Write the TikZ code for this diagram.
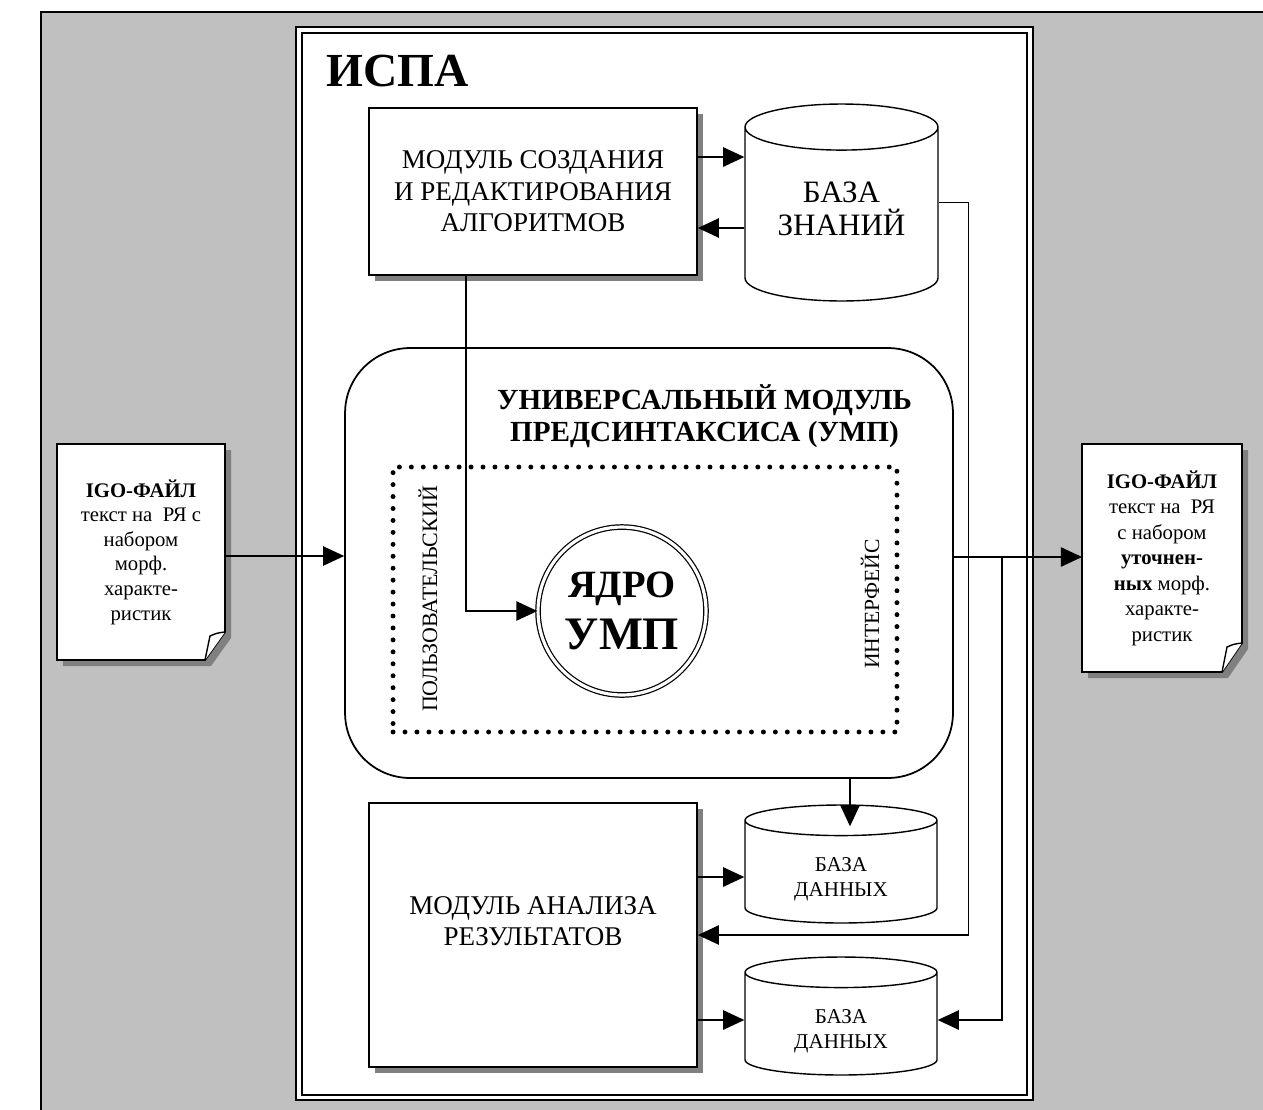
\documentclass[tikz,border=0pt]{standalone}
\usepackage{fontspec}
\setmainfont{Liberation Serif}
\usetikzlibrary{shapes.geometric,arrows.meta,shadows,calc}
\definecolor{bggray}{RGB}{192,192,192}
\definecolor{shadowgray}{RGB}{128,128,128}
\tikzstyle{module} = [rectangle, draw=black, line width=1pt, fill=white, align=center, font=\fontsize{15.4}{18}\selectfont, drop shadow={shadow xshift=0.12cm, shadow yshift=-0.12cm, fill=shadowgray, opacity=1}]
\tikzstyle{database} = [cylinder, shape border rotate=90, draw=black, line width=0.8pt, align=center, anchor=shape center, minimum width=3.84cm, font=\fontsize{12}{14.2}\selectfont]
\tikzstyle{dbtext} = [align=center, font=\fontsize{12}{14.2}\selectfont]
\tikzstyle{docpage} = [draw=black, line width=1pt, fill=white, drop shadow={shadow xshift=0.12cm, shadow yshift=-0.12cm, fill=shadowgray, opacity=1}]
\tikzstyle{doctext} = [align=center, font=\fontsize{11.8}{14}\selectfont]
\tikzstyle{arrow} = [line width=0.8pt, -{Triangle[length=12pt,width=11pt]}]

\begin{document}
\begin{tikzpicture}[x=0.02cm, y=-0.02cm]
\useasboundingbox (0,0) rectangle (1263,1109);
% background and ISPA frame
\draw [fill=bggray, line width=0.8pt] (41,12) rectangle (1290,1130);
\draw [fill=white, line width=1.3pt] (296,27) rectangle (1033,1100);
\draw [line width=1pt] (302,33) rectangle (1027,1095);
\node (ispa) [anchor=base west, font=\bfseries\fontsize{27}{32}\selectfont] at (320,86) {ИСПА};

\node (mod) [module, minimum width=6.56cm, minimum height=3.34cm] at (533,191.5) {МОДУЛЬ СОЗДАНИЯ\\И РЕДАКТИРОВАНИЯ\\АЛГОРИТМОВ};
\node (kb) [database, minimum width=3.86cm, minimum height=3.94cm, aspect=0.33, font=\fontsize{17.7}{19}\selectfont] at (841.5,202.5) {\phantom{БАЗА}\\\phantom{ЗНАНИЙ}};
\node (kbText) [dbtext, font=\fontsize{17.7}{19}\selectfont] at (841.5,209) {БАЗА\\ЗНАНИЙ};

% UMP block
\node (ump) [rectangle, rounded corners=1.3cm, draw, line width=1pt, fill=white, minimum width=12.16cm, minimum height=8.6cm] at (649,563) {};
\node (umpTitle) [align=center, font=\bfseries\fontsize{16.6}{18.2}\selectfont] at (704.5,416) {УНИВЕРСАЛЬНЫЙ МОДУЛЬ\\ПРЕДСИНТАКСИСА (УМП)};
\node (ui) [rectangle, draw, line width=2.8pt, dash pattern=on 0pt off 6.8pt, line cap=round, minimum width=10.08cm, minimum height=5.3cm] at (645,599.5) {};
\node (uiLeft) [rotate=90, font=\fontsize{12.5}{14}\selectfont] at (428,599) {ПОЛЬЗОВАТЕЛЬСКИЙ};
\node (uiRight) [rotate=90, font=\fontsize{12.3}{14}\selectfont] at (870,604) {ИНТЕРФЕЙС};
\node (core) [circle, draw, double, double distance=1.8pt, line width=0.7pt, minimum size=3.36cm, align=center, font=\bfseries\fontsize{26.5}{30}\selectfont] at (622,611) {{\fontsize{22}{26}\selectfont ЯДРО}\\УМП};

\node (ana) [module, minimum width=6.56cm, minimum height=5.28cm] at (533,935) {};
\node (anaText) [align=center, font=\fontsize{15.4}{17.6}\selectfont] at (533,921) {МОДУЛЬ АНАЛИЗА\\РЕЗУЛЬТАТОВ};
\node (db1) [database, minimum height=2.36cm, aspect=0.29] at (841,864) {\phantom{БАЗА}\\\phantom{ДАННЫХ}};
\node (db1Text) [dbtext] at (841,879) {БАЗА\\ДАННЫХ};
\node (db2) [database, minimum height=2.36cm, aspect=0.29] at (841,1016) {\phantom{БАЗА}\\\phantom{ДАННЫХ}};
\node (db2Text) [dbtext] at (841,1031) {БАЗА\\ДАННЫХ};

% input and output files
\coordinate (inNW) at (57,444);
\coordinate (inSE) at (225,660);
\draw [docpage] (inNW) -| ($(inSE)+(0,-28)$) -- ($(inSE)+(-20,0)$) -- (inNW |- inSE) -- cycle;
\draw [line width=0.8pt, fill=white] ($(inSE)+(0,-28)$) .. controls ($(inSE)+(-8,-27)$) .. ($(inSE)+(-15,-24)$) -- ($(inSE)+(-20,0)$);
\node (inFile) [doctext] at ($(inNW)!0.5!(inSE)$) {\textbf{IGO-ФАЙЛ}\\текст на~ РЯ с\\набором\\морф.\\характе-\\ристик};

\coordinate (outNW) at (1082,444);
\coordinate (outSE) at (1242,672);
\draw [docpage] (outNW) -| ($(outSE)+(0,-29)$) -- ($(outSE)+(-20,0)$) -- (outNW |- outSE) -- cycle;
\draw [line width=0.8pt, fill=white] ($(outSE)+(0,-29)$) .. controls ($(outSE)+(-8,-28)$) .. ($(outSE)+(-15,-25)$) -- ($(outSE)+(-20,0)$);
\node (outFile) [doctext, font=\fontsize{11.8}{14.5}\selectfont] at ($(outNW)!0.5!(outSE)$) {\textbf{IGO-ФАЙЛ}\\текст на~ РЯ\\с набором\\\textbf{уточнен-}\\\textbf{ных} морф.\\характе-\\ристик};
\coordinate (tap) at (1002,557);

% connectors
\draw [arrow] ([yshift=0.69cm]mod.east) -- ([yshift=0.69cm]mod.east -| kb.west);
\draw [arrow] ([yshift=-0.73cm]mod.east -| kb.west) -- ([yshift=-0.73cm]mod.east);
\draw [arrow] ([xshift=-1.34cm]mod.south) |- (core.west);
\draw [arrow] (kb.east |- kb.shape center) -- ++(30,0) |- (ana.east);
\draw [arrow] ([yshift=-0.08cm]inFile.east -| inSE) -- ([yshift=-0.08cm]inFile.east -| ump.west);
\draw [arrow] (ump.east |- tap) -- (tap -| outNW);
\draw [arrow] (tap) |- ([yshift=-0.08cm]db2.shape center -| db2.east);
\draw [arrow] ([xshift=0.18cm]db1.north |- ump.south) -- ([xshift=0.18cm,yshift=-0.44cm]db1.north);
\draw [arrow] ([yshift=-0.26cm]db1.shape center -| ana.east) -- ([yshift=-0.26cm]db1.shape center -| db1.west);
\draw [arrow] ([yshift=-0.08cm]db2.shape center -| ana.east) -- ([yshift=-0.08cm]db2.shape center -| db2.west);
\end{tikzpicture}
\end{document}
